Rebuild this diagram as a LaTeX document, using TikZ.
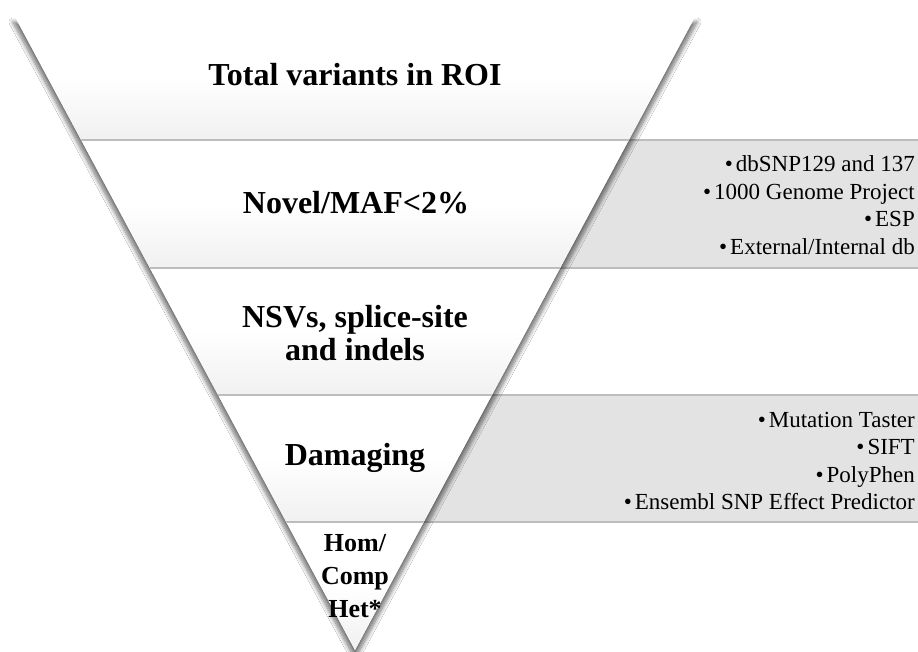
\documentclass[tikz,border=0pt]{standalone}
\usepackage{fontspec}
\setmainfont{Liberation Serif}
\usetikzlibrary{shadows.blur}
\definecolor{boxgray}{HTML}{E3E3E3}
\definecolor{edgegray}{HTML}{BDBDBD}
\definecolor{bandgray}{HTML}{E2E2E2}
\pgfdeclareverticalshading{bandshade}{100bp}{color(0bp)=(bandgray); color(8bp)=(bandgray!85!white); color(50bp)=(white); color(96bp)=(white); color(100bp)=(white!93!black)}
\tikzset{
  boxfill/.style={fill=boxgray},
  boxedge/.style={draw=edgegray, line width=1.2pt},
  bandfill/.style={shading=bandshade},
  bandedge/.style={draw=edgegray, line width=1.2pt},
  biglabel/.style={font=\bfseries\fontsize{32}{33}\selectfont, align=center, inner sep=0pt},
  smalllabel/.style={font=\bfseries\fontsize{26}{33}\selectfont, align=center, inner sep=0pt},
  listlabel/.style={font=\fontsize{23}{27.5}\selectfont, align=right, inner sep=0pt, anchor=east},
}
\newcommand{\bul}{\textbullet\hspace{3pt}}
\begin{document}
\begin{tikzpicture}[x=1pt,y=-1pt]
\useasboundingbox (0,0) rectangle (918,652);
\fill[white] (0,0) rectangle (918,652);
% gray side boxes
\fill[boxfill] (450,140) rectangle (918,268);
\draw[boxedge] (450,140) -- (918,140);
\draw[boxedge] (450,268) -- (918,268);
\fill[boxfill] (300,395) rectangle (918,522);
\draw[boxedge] (300,395) -- (918,395);
\draw[boxedge] (300,522) -- (918,522);
% triangle
\coordinate (TL) at (13,13);
\coordinate (TR) at (697,13);
\coordinate (AP) at (355,650);
\path[fill=white, blur shadow={shadow xshift=0pt, shadow yshift=-9pt, shadow blur radius=4pt, shadow blur steps=10, shadow opacity=55}] (TL) -- (TR) -- (AP) -- cycle;
\begin{scope}
\clip (TL) -- (TR) -- (AP) -- cycle;
\shade[bandfill] (0,13) rectangle (918,140);
\shade[bandfill] (0,140) rectangle (918,268);
\shade[bandfill] (0,268) rectangle (918,395);
\shade[bandfill] (0,395) rectangle (918,522);
\shade[bandfill] (0,522) rectangle (918,650);
\draw[bandedge] (0,140) -- (918,140);
\draw[bandedge] (0,268) -- (918,268);
\draw[bandedge] (0,395) -- (918,395);
\draw[bandedge] (0,522) -- (918,522);
\end{scope}
% labels
\node[biglabel] (l1) at (355,75) {Total variants in ROI};
\node[biglabel] (l2) at (356,203) {Novel/MAF<2\%};
\node[biglabel] (l3) at (355,333) {NSVs, splice-site\\and indels};
\node[biglabel] (l4) at (355,458) {Damaging};
\node[smalllabel] (l5) at (355,576) {Hom/\\Comp\\Het*};
\node[listlabel] (r2) at (915,205) {\bul dbSNP129 and 137\\\bul 1000 Genome Project\\\bul ESP\\\bul External/Internal db};
\node[listlabel] (r4) at (915,461) {\bul Mutation Taster\\\bul SIFT\\\bul PolyPhen\\\bul Ensembl SNP Effect Predictor};
\end{tikzpicture}
\end{document}
